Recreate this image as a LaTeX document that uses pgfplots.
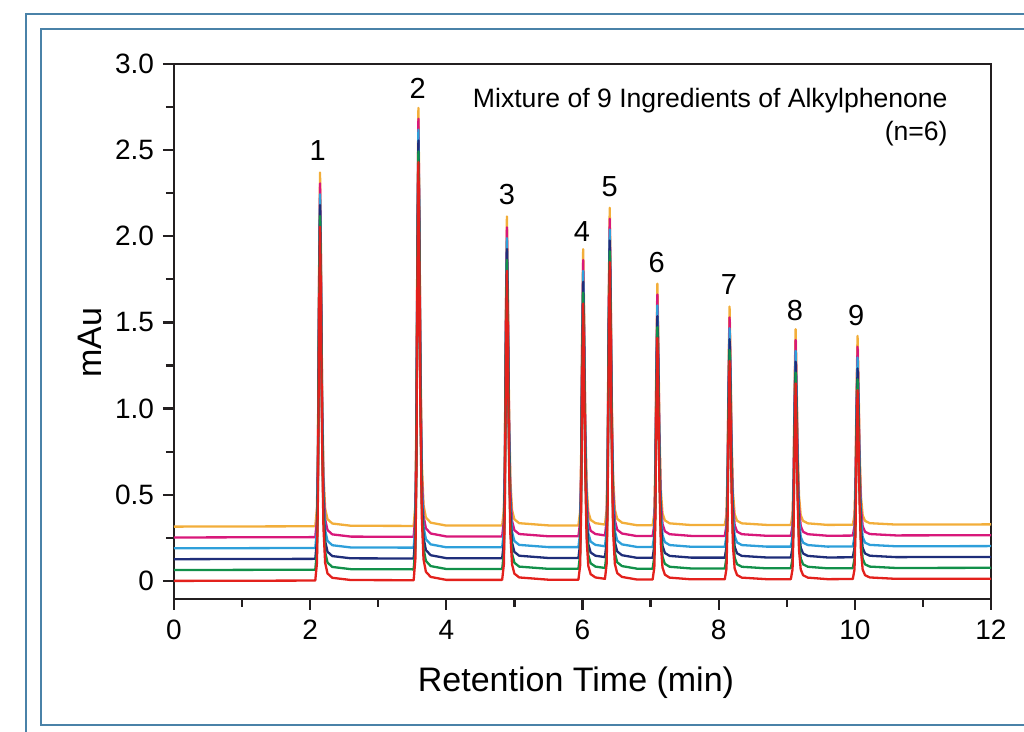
\documentclass[border=0pt]{standalone}
\usepackage{pgfplots}
\usepackage{pgfplotstable}
\pgfplotsset{compat=1.18}
\usepackage{fontspec}
\setmainfont{Liberation Sans}
\definecolor{axblack}{HTML}{231F20}
\definecolor{frameblue}{HTML}{4A82A8}
\definecolor{cRed}{HTML}{E3211C}
\definecolor{cGreen}{HTML}{12904A}
\definecolor{cNavy}{HTML}{1F2E7A}
\definecolor{cBlue}{HTML}{2E9FDA}
\definecolor{cMag}{HTML}{D8187A}
\definecolor{cOrange}{HTML}{F2AE3A}

\pgfplotstableread{
x r g n b m o
0.000 0.000 0.063 0.126 0.189 0.252 0.315
2.075 0.002 0.065 0.128 0.191 0.254 0.317
2.100 0.105 0.168 0.231 0.294 0.357 0.420
2.115 0.515 0.578 0.641 0.704 0.767 0.830
2.130 1.439 1.502 1.565 1.628 1.691 1.754
2.145 2.055 2.118 2.181 2.244 2.307 2.370
2.157 1.644 1.707 1.770 1.833 1.896 1.959
2.175 0.823 0.886 0.949 1.012 1.075 1.138
2.195 0.310 0.373 0.436 0.499 0.562 0.625
2.220 0.105 0.168 0.231 0.294 0.357 0.420
2.255 0.043 0.106 0.169 0.232 0.295 0.358
2.325 0.018 0.081 0.144 0.207 0.270 0.333
2.600 0.005 0.068 0.131 0.194 0.257 0.320
3.520 0.004 0.067 0.130 0.193 0.256 0.319
3.545 0.125 0.188 0.251 0.314 0.377 0.440
3.560 0.611 0.674 0.737 0.800 0.863 0.926
3.575 1.702 1.765 1.828 1.891 1.954 2.017
3.590 2.430 2.493 2.556 2.619 2.682 2.745
3.602 1.945 2.008 2.071 2.134 2.197 2.260
3.620 0.974 1.037 1.100 1.163 1.226 1.289
3.640 0.368 0.431 0.494 0.557 0.620 0.683
3.665 0.125 0.188 0.251 0.314 0.377 0.440
3.700 0.053 0.116 0.179 0.242 0.305 0.368
3.770 0.023 0.086 0.149 0.212 0.275 0.338
4.000 0.006 0.069 0.132 0.195 0.258 0.321
4.820 0.006 0.069 0.132 0.195 0.258 0.321
4.845 0.096 0.159 0.222 0.285 0.348 0.411
4.860 0.455 0.518 0.581 0.644 0.707 0.770
4.875 1.262 1.325 1.388 1.451 1.514 1.577
4.890 1.800 1.863 1.926 1.989 2.052 2.115
4.902 1.441 1.504 1.567 1.630 1.693 1.756
4.920 0.724 0.787 0.850 0.913 0.976 1.039
4.940 0.275 0.338 0.401 0.464 0.527 0.590
4.965 0.096 0.159 0.222 0.285 0.348 0.411
5.000 0.042 0.105 0.168 0.231 0.294 0.357
5.070 0.020 0.083 0.146 0.209 0.272 0.335
5.500 0.007 0.070 0.133 0.196 0.259 0.322
5.940 0.007 0.070 0.133 0.196 0.259 0.322
5.965 0.087 0.150 0.213 0.276 0.339 0.402
5.980 0.408 0.471 0.534 0.597 0.660 0.723
5.995 1.129 1.192 1.255 1.318 1.381 1.444
6.010 1.610 1.673 1.736 1.799 1.862 1.925
6.022 1.289 1.352 1.415 1.478 1.541 1.604
6.040 0.648 0.711 0.774 0.837 0.900 0.963
6.060 0.247 0.310 0.373 0.436 0.499 0.562
6.085 0.087 0.150 0.213 0.276 0.339 0.402
6.120 0.039 0.102 0.165 0.228 0.291 0.354
6.190 0.020 0.083 0.146 0.209 0.272 0.335
6.330 0.012 0.075 0.138 0.201 0.264 0.327
6.355 0.100 0.163 0.226 0.289 0.352 0.415
6.370 0.469 0.532 0.595 0.658 0.721 0.784
6.385 1.297 1.360 1.423 1.486 1.549 1.612
6.400 1.850 1.913 1.976 2.039 2.102 2.165
6.412 1.482 1.545 1.608 1.671 1.734 1.797
6.430 0.745 0.808 0.871 0.934 0.997 1.060
6.450 0.284 0.347 0.410 0.473 0.536 0.599
6.475 0.100 0.163 0.226 0.289 0.352 0.415
6.510 0.045 0.108 0.171 0.234 0.297 0.360
6.580 0.023 0.086 0.149 0.212 0.275 0.338
6.800 0.008 0.071 0.134 0.197 0.260 0.323
7.030 0.008 0.071 0.134 0.197 0.260 0.323
7.055 0.078 0.141 0.204 0.267 0.330 0.393
7.070 0.359 0.422 0.485 0.548 0.611 0.674
7.085 0.989 1.052 1.115 1.178 1.241 1.304
7.100 1.410 1.473 1.536 1.599 1.662 1.725
7.112 1.130 1.193 1.256 1.319 1.382 1.445
7.130 0.569 0.632 0.695 0.758 0.821 0.884
7.150 0.218 0.281 0.344 0.407 0.470 0.533
7.175 0.078 0.141 0.204 0.267 0.330 0.393
7.210 0.036 0.099 0.162 0.225 0.288 0.351
7.280 0.019 0.082 0.145 0.208 0.271 0.334
7.600 0.009 0.072 0.135 0.198 0.261 0.324
8.090 0.009 0.072 0.135 0.198 0.261 0.324
8.115 0.072 0.135 0.198 0.261 0.324 0.387
8.130 0.326 0.389 0.452 0.515 0.578 0.641
8.145 0.897 0.960 1.023 1.086 1.149 1.212
8.160 1.277 1.340 1.403 1.466 1.529 1.592
8.172 1.023 1.086 1.149 1.212 1.275 1.338
8.190 0.516 0.579 0.642 0.705 0.768 0.831
8.210 0.199 0.262 0.325 0.388 0.451 0.514
8.235 0.072 0.135 0.198 0.261 0.324 0.387
8.270 0.034 0.097 0.160 0.223 0.286 0.349
8.340 0.019 0.082 0.145 0.208 0.271 0.334
8.700 0.010 0.073 0.136 0.199 0.262 0.325
9.060 0.010 0.073 0.136 0.199 0.262 0.325
9.085 0.067 0.130 0.193 0.256 0.319 0.382
9.100 0.294 0.357 0.420 0.483 0.546 0.609
9.115 0.805 0.868 0.931 0.994 1.057 1.120
9.130 1.146 1.209 1.272 1.335 1.398 1.461
9.142 0.919 0.982 1.045 1.108 1.171 1.234
9.160 0.464 0.527 0.590 0.653 0.716 0.779
9.180 0.180 0.243 0.306 0.369 0.432 0.495
9.205 0.067 0.130 0.193 0.256 0.319 0.382
9.240 0.033 0.096 0.159 0.222 0.285 0.348
9.310 0.019 0.082 0.145 0.208 0.271 0.334
9.600 0.010 0.073 0.136 0.199 0.262 0.325
9.970 0.011 0.074 0.137 0.200 0.263 0.326
9.995 0.066 0.129 0.192 0.255 0.318 0.381
10.010 0.285 0.348 0.411 0.474 0.537 0.600
10.025 0.778 0.841 0.904 0.967 1.030 1.093
10.040 1.107 1.170 1.233 1.296 1.359 1.422
10.052 0.888 0.951 1.014 1.077 1.140 1.203
10.070 0.449 0.512 0.575 0.638 0.701 0.764
10.090 0.175 0.238 0.301 0.364 0.427 0.490
10.115 0.066 0.129 0.192 0.255 0.318 0.381
10.150 0.033 0.096 0.159 0.222 0.285 0.348
10.220 0.020 0.083 0.146 0.209 0.272 0.335
10.600 0.012 0.075 0.138 0.201 0.264 0.327
12.000 0.013 0.076 0.139 0.202 0.265 0.328
}\chrom

\begin{document}
\begin{tikzpicture}
\useasboundingbox (0pt,0pt) rectangle (512pt,366pt);
\begin{scope}
\clip (0pt,0pt) rectangle (512pt,366pt);
\draw[frameblue, line width=0.9pt] (13pt,-10pt) -- (13pt,359pt) -- (530pt,359pt);
\draw[frameblue, line width=0.9pt] (530pt,3.5pt) -- (20.5pt,3.5pt) -- (20.5pt,351.5pt) -- (530pt,351.5pt);
\end{scope}
\begin{axis}[
  at={(87pt,66.5pt)}, anchor=south west,
  scale only axis, width=408.5pt, height=267.5pt,
  xmin=0, xmax=12, ymin=-0.105, ymax=3.0,
  axis line style={axblack, line width=1.25pt},
  every tick/.style={axblack, line width=1.1pt},
  tick align=outside,
  xtick pos=bottom, ytick pos=left,
  major tick length=5.5pt, minor tick length=4pt,
  xtick={0,2,4,6,8,10,12},
  xticklabels={0,2,4,6,8,10,12},
  minor xtick={1,3,5,7,9,11},
  ytick={0,0.5,1,1.5,2,2.5,3},
  yticklabels={0,0.5,1.0,1.5,2.0,2.5,3.0},
  minor ytick={0.25,0.75,1.25,1.75,2.25,2.75},
  tick label style={font=\fontsize{14}{16}\selectfont, text=black},
  xticklabel style={yshift=-1.5pt},
  yticklabel style={xshift=-1pt},
  clip=true,
  every axis plot/.append style={line width=1.15pt, line join=round},
]
\addplot[cOrange, no markers] table[x=x, y=o] {\chrom};
\addplot[cMag, no markers] table[x=x, y=m] {\chrom};
\addplot[cBlue, no markers] table[x=x, y=b] {\chrom};
\addplot[cNavy, no markers] table[x=x, y=n] {\chrom};
\addplot[cGreen, no markers] table[x=x, y=g] {\chrom};
\addplot[cRed, no markers] table[x=x, y=r] {\chrom};
\begin{scope}[every node/.style={font=\fontsize{14.5}{16}\selectfont, anchor=center}]
\node at (axis cs:2.11,2.50) {1};
\node at (axis cs:3.58,2.86) {2};
\node at (axis cs:4.89,2.24) {3};
\node at (axis cs:5.99,2.03) {4};
\node at (axis cs:6.40,2.29) {5};
\node at (axis cs:7.09,1.85) {6};
\node at (axis cs:8.15,1.72) {7};
\node at (axis cs:9.12,1.57) {8};
\node at (axis cs:10.02,1.54) {9};
\end{scope}
\end{axis}
\node[anchor=east, font=\fontsize{13.3}{15}\selectfont, inner sep=0pt] at (474pt,315.5pt) {Mixture of 9 Ingredients of Alkylphenone};
\node[anchor=east, font=\fontsize{13.3}{15}\selectfont, inner sep=0pt] at (474pt,299pt) {(n=6)};
\node[font=\fontsize{17}{20}\selectfont] at (288pt,24.5pt) {Retention Time (min)};
\node[rotate=90, font=\fontsize{17}{20}\selectfont] at (45pt,194.5pt) {mAu};
\end{tikzpicture}
\end{document}
